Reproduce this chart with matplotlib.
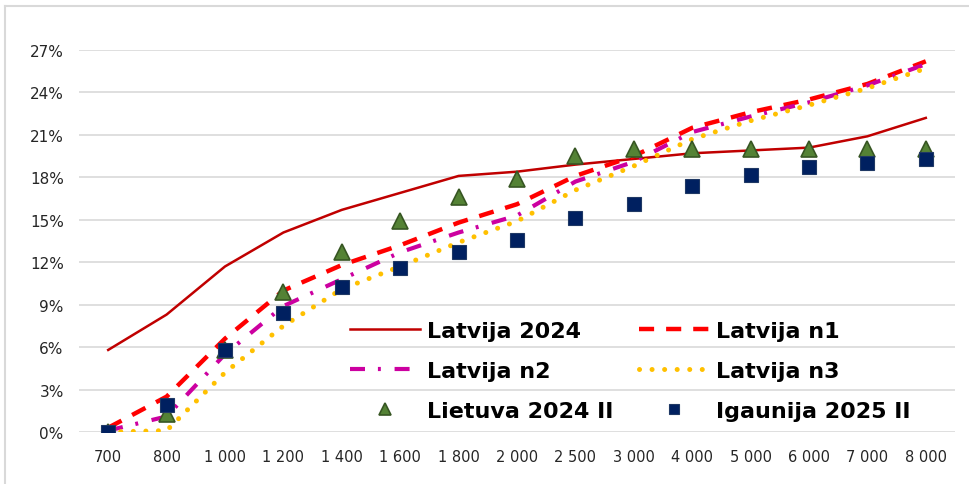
import matplotlib
matplotlib.use("Agg")
import matplotlib.pyplot as plt
from matplotlib.lines import Line2D
import numpy as np

# income thresholds (x categories)
categories = ["700", "800", "1 000", "1 200", "1 400", "1 600", "1 800", "2 000",
              "2 500", "3 000", "4 000", "5 000", "6 000", "7 000", "8 000"]

# values in percent
latvija_2024 = [5.8, 8.3, 11.7, 14.1, 15.7, 16.9, 18.1, 18.4, 18.9, 19.3, 19.7, 19.9, 20.1, 20.9, 22.2]
latvija_n1 = [0.3, 2.5, 6.6, 10.0, 11.8, 13.2, 14.8, 16.1, 18.1, 19.5, 21.5, 22.6, 23.5, 24.6, 26.2]
latvija_n2 = [0.1, 1.1, 5.5, 8.9, 10.8, 12.7, 14.1, 15.3, 17.7, 19.1, 21.2, 22.3, 23.3, 24.5, 26.0]
latvija_n3 = [0.0, 0.1, 4.2, 7.5, 10.1, 11.7, 13.4, 14.9, 17.1, 18.8, 20.7, 22.0, 23.1, 24.3, 25.7]
lietuva_2024_ii = [0.0, 1.3, 5.8, 9.9, 12.7, 14.9, 16.6, 17.9, 19.5, 20.0, 20.0, 20.0, 20.0, 20.0, 20.0]
igaunija_2025_ii = [0.0, 1.9, 5.8, 8.4, 10.25, 11.6, 12.7, 13.6, 15.1, 16.1, 17.4, 18.2, 18.7, 19.0, 19.3]

x = np.arange(len(categories))

fig = plt.figure(figsize=(9.7, 4.85), dpi=100)
ax = fig.add_axes([79 / 970, 1 - 433 / 485, (955 - 79) / 970, (433 - 51) / 485])

grid_col = "#D9D9D9"

l0, = ax.plot(x, latvija_2024, color="#C00000", lw=1.8, label="Latvija 2024", zorder=3)
l1, = ax.plot(x, latvija_n1, color="#FF0000", lw=3.2, ls=(0, (3.4, 2.7)), label="Latvija n1", zorder=3)
l2, = ax.plot(x, latvija_n2, color="#CC00A0", lw=3.0, ls=(0, (3.6, 3.1, 0.7, 3.3)), label="Latvija n2", zorder=3)
l3, = ax.plot(x, latvija_n3, color="#FFC000", lw=3.6, ls=(0, (0.01, 2.5)), dash_capstyle="round",
              label="Latvija n3", zorder=3)
m1, = ax.plot(x, lietuva_2024_ii, ls="none", marker="^", ms=11, mfc="#548235", mec="#375623", mew=1.2,
              label="Lietuva 2024 II", zorder=4)
m2, = ax.plot(x, igaunija_2025_ii, ls="none", marker="s", ms=10.5, mfc="#002060", mec="#1F3864", mew=0.8,
              label="Igaunija 2025 II", zorder=5)

ax.set_xlim(-0.5, len(categories) - 0.5)
ax.set_ylim(0, 27)
ax.set_yticks(np.arange(0, 28, 3))
ax.set_yticklabels([f"{v}%" for v in range(0, 28, 3)])
ax.set_xticks(x)
ax.set_xticklabels(categories)

ax.grid(axis="y", color=grid_col, lw=1.2)
ax.set_axisbelow(True)
for s in ax.spines.values():
    s.set_visible(False)
ax.tick_params(axis="both", length=0, labelsize=11, labelcolor="#262626")
ax.tick_params(axis="x", pad=12, labelsize=10.5)
ax.tick_params(axis="y", pad=11)

# legend filled row by row like the original
order = [l0, l2, m1, l1, l3, m2]
leg = ax.legend(order, [h.get_label() for h in order], ncol=2, loc="upper left",
                bbox_to_anchor=(350 / 970, 1 - 322 / 485), bbox_transform=fig.transFigure,
                frameon=False, prop={"weight": "bold", "size": 16},
                handlelength=3.15, handletextpad=0.32, columnspacing=1.15, labelspacing=0.89,
                borderpad=0, borderaxespad=0, markerscale=0.75)

# chart area border (left and top edges visible)
fig.add_artist(Line2D([5 / 970, 5 / 970], [0, 1 - 7 / 485], color=grid_col, lw=1.5))
fig.add_artist(Line2D([5 / 970, 1], [1 - 7 / 485, 1 - 7 / 485], color=grid_col, lw=1.5))

fig.savefig("out.png", dpi=100)
